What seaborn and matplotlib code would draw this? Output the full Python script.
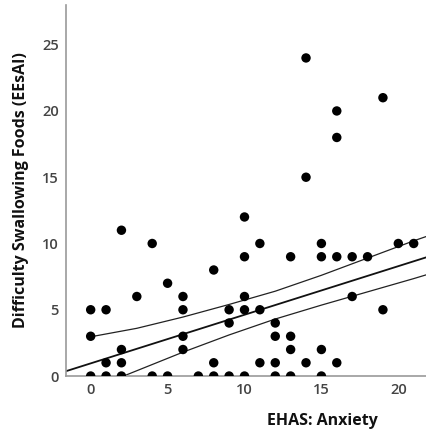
import matplotlib
matplotlib.use('Agg')
import matplotlib.pyplot as plt
import pandas as pd
import seaborn as sns

# scatter points (overlapping duplicates not visible)
anxiety = [0, 1, 0, 0, 1, 2, 1, 2, 2, 2,
           3, 4, 4, 5, 5, 6, 6, 6, 6, 7,
           8, 8, 8, 9, 9, 9, 10, 10, 10, 10,
           10, 11, 11, 11, 12, 12, 12, 12, 13, 13,
           13, 13, 14, 14, 14, 15, 15, 15, 15, 16,
           16, 16, 16, 17, 17, 18, 19, 19, 20, 21]
swallowing = [5, 5, 3, 0, 0, 0, 1, 1, 2, 11,
              6, 10, 0, 7, 0, 6, 5, 3, 2, 0,
              8, 1, 0, 5, 4, 0, 12, 9, 6, 5,
              0, 10, 5, 1, 4, 3, 1, 0, 9, 3,
              2, 0, 24, 15, 1, 10, 9, 2, 0, 20,
              18, 9, 1, 9, 6, 9, 21, 5, 10, 10]

# fit line (spans the whole axis) and its 95% mean CI
fit_x = [-1.7, 21.8]
fit_y = [0.33, 8.95]
ci_x = [0, 3, 6, 9, 12, 15, 18, 21, 22]
ci_upper = [2.96, 3.6, 4.45, 5.4, 6.4, 7.6, 8.9, 10.2, 10.6]
ci_lower = [-1.0, 0.4, 1.8, 3.1, 4.3, 5.35, 6.35, 7.35, 7.7]

x_ticks = [0, 5, 10, 15, 20]
y_ticks = [0, 5, 10, 15, 20, 25]

sns.set_theme(style='ticks')
plt.rcParams['font.family'] = ['Open Sans', 'DejaVu Sans']

df = pd.DataFrame({'x': anxiety, 'y': swallowing})

fig = plt.figure(figsize=(4.26, 4.33), dpi=100)
ax = fig.add_axes([0.154, 0.1316, 0.846, 0.857])

sns.lineplot(x=fit_x, y=fit_y, ax=ax, color='#111111', lw=1.3)
sns.lineplot(x=ci_x, y=ci_upper, ax=ax, color='#222222', lw=0.9)
sns.lineplot(x=ci_x, y=ci_lower, ax=ax, color='#222222', lw=0.9)
sns.scatterplot(data=df, x='x', y='y', ax=ax, color='black', s=46,
                edgecolor='none', zorder=3)

ax.set_xlim(-1.63, 21.8)
ax.set_ylim(0, 28)
ax.set_xticks(x_ticks)
ax.set_yticks(y_ticks)
ax.tick_params(length=0, labelsize=10.5, labelcolor='#444444', pad=5)
for lab in ax.get_xticklabels() + ax.get_yticklabels():
    lab.set_fontweight('semibold')

for side in ['top', 'right']:
    ax.spines[side].set_visible(False)
for side in ['left', 'bottom']:
    ax.spines[side].set_color('#9a9a9a')
    ax.spines[side].set_linewidth(1.2)

ax.set_xlabel('EHAS: Anxiety', fontsize=11.5, fontweight='bold',
              color='#111111', va='center')
ax.set_ylabel('Difficulty Swallowing Foods (EEsAI)', fontsize=11.5,
              fontweight='bold', color='#111111', va='center')
ax.xaxis.set_label_coords(0.714, -0.122)
ax.yaxis.set_label_coords(-0.124, 0.5)

fig.savefig('out.png', dpi=100)
